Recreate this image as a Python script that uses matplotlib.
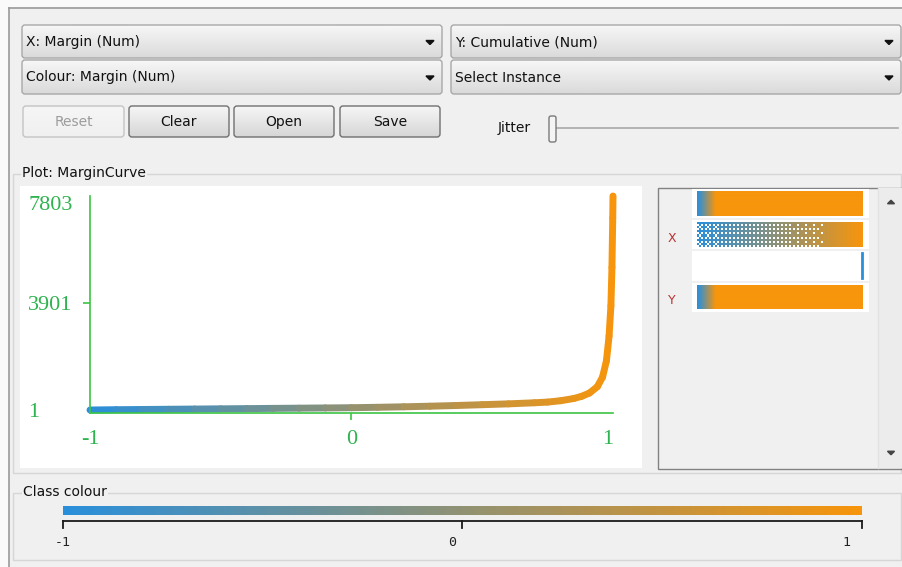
"""Weka visualize panel: margin curve (cumulative count vs margin)."""

import matplotlib
matplotlib.use("Agg")
import matplotlib.pyplot as plt
import numpy as np
from matplotlib.collections import LineCollection
from matplotlib.colors import LinearSegmentedColormap, Normalize
from matplotlib.patches import FancyBboxPatch, Polygon, Rectangle
from matplotlib import transforms

W, H = 903, 567

# --- data ---
margin = [-1.0, -0.9, -0.8, -0.7, -0.6, -0.5, -0.4, -0.3, -0.2, -0.1, 0.0,
          0.1, 0.2, 0.3, 0.4, 0.5, 0.6, 0.7, 0.75, 0.8, 0.85, 0.88, 0.91,
          0.94, 0.96, 0.975, 0.985, 0.992, 0.996, 0.999, 1.0]
cumulative = [1, 12, 20, 28, 36, 44, 52, 60, 68, 76, 85,
              100, 118, 140, 165, 195, 225, 265, 290, 340, 420, 500, 620,
              850, 1200, 1800, 2700, 3800, 5200, 7000, 7803]

x_ticks = [-1, 0, 1]
y_ticks = [1, 3901, 7803]
class_ticks = [-1, 0, 1]

# attribute strips in the legend panel: (bar position, margin colour)
strip_top_pos = [0.0, 0.02, 0.11, 1.0]
strip_top_margin = [-1.0, -0.7, 1.0, 1.0]
strip_x_pos = [0.0, 1.0]
strip_x_margin = [-1.0, 1.0]
strip_x_cover_pos = [0.0, 0.4, 0.75, 0.79, 1.0]
strip_x_cover = [0.68, 0.7, 0.8, 1.0, 1.0]
strip_y_pos = [0.0, 0.02, 0.11, 1.0]
strip_y_margin = [-1.0, -0.7, 1.0, 1.0]

BLUE = "#2a8fdb"
ORANGE = "#f7950c"
GREEN = "#3cc444"
GREEN_TXT = "#2fb34f"
BG = "#f0f0f0"
UI_FONT = "DejaVu Sans"

cmap = LinearSegmentedColormap.from_list("weka", [BLUE, ORANGE])
norm = Normalize(-1, 1)


def frac(x0, y0, x1, y1):
    return [x0 / W, 1 - y1 / H, (x1 - x0) / W, (y1 - y0) / H]


def grad_box(ax, x0, y0, x1, y1, top, bottom, edge, r=3):
    patch = FancyBboxPatch((x0, y0), x1 - x0, y1 - y0,
                           boxstyle=f"round,pad=0,rounding_size={r}",
                           facecolor="none", edgecolor=edge, lw=1, zorder=3)
    ax.add_patch(patch)
    c0 = np.array(matplotlib.colors.to_rgb(top))
    c1 = np.array(matplotlib.colors.to_rgb(bottom))
    t = np.linspace(0, 1, 32)[:, None, None]
    img = c0 * (1 - t) + c1 * t
    im = ax.imshow(img, extent=(x0, x1, y1, y0), aspect="auto", zorder=2,
                   interpolation="bilinear")
    im.set_clip_path(patch)


def arrow_down(ax, cx, cy, s=4, color="#111111"):
    ax.add_patch(Polygon([(cx - s, cy - s / 2), (cx + s, cy - s / 2), (cx, cy + s / 2)],
                         closed=True, color=color, zorder=4))


def arrow_up(ax, cx, cy, s=4, color="#444444"):
    ax.add_patch(Polygon([(cx - s, cy + s / 2), (cx + s, cy + s / 2), (cx, cy - s / 2)],
                         closed=True, color=color, zorder=4))


def strip_image(pos, marg, n=166):
    u = np.linspace(0, 1, n)
    m = np.interp(u, pos, marg)
    return cmap(norm(m))[None, :, :]


fig = plt.figure(figsize=(W / 100, H / 100), dpi=100)
fig.patch.set_facecolor(BG)

ui = fig.add_axes([0, 0, 1, 1])
ui.set_xlim(0, W)
ui.set_ylim(H, 0)
ui.set_autoscale_on(False)
ui.axis("off")

# outer frame
ui.add_patch(Rectangle((0, 0), W, 7, facecolor="#fafafa", edgecolor="none"))
ui.add_patch(Rectangle((0, 0), 9, H, facecolor="#fafafa", edgecolor="none"))
ui.plot([9.5, W], [7.5, 7.5], color="#9a9a9a", lw=1.2)
ui.plot([9.5, 9.5], [7.5, H], color="#9a9a9a", lw=1.2)

# combo boxes
combos = [(22, 25, 442, 58, "X: Margin (Num)"),
          (22, 60, 442, 94, "Colour: Margin (Num)"),
          (451, 25, 901, 58, "Y: Cumulative (Num)"),
          (451, 60, 901, 94, "Select Instance")]
for x0, y0, x1, y1, label in combos:
    grad_box(ui, x0, y0, x1, y1, "#f7f7f7", "#dadada", "#a8a8a8")
    ui.text(x0 + 4, (y0 + y1) / 2 + 0.5, label, fontsize=10, family=UI_FONT,
            va="center", ha="left", color="#111111", zorder=5)
    arrow_down(ui, x1 - 12, (y0 + y1) / 2 + 1)

# buttons
buttons = [(23, 106, 124, 137, "Reset", False),
           (129, 106, 229, 137, "Clear", True),
           (234, 106, 334, 137, "Open", True),
           (340, 106, 440, 137, "Save", True)]
for x0, y0, x1, y1, label, enabled in buttons:
    if enabled:
        grad_box(ui, x0, y0, x1, y1, "#f6f6f6", "#d6d6d6", "#707070")
        col = "#111111"
    else:
        grad_box(ui, x0, y0, x1, y1, "#f6f6f6", "#f0f0f0", "#c4c4c4")
        col = "#9c9c9c"
    ui.text((x0 + x1) / 2, (y0 + y1) / 2 + 0.5, label, fontsize=10,
            family=UI_FONT, ha="center", va="center", color=col, zorder=5)

# jitter slider
ui.text(498, 128, "Jitter", fontsize=10, family=UI_FONT, ha="left",
        va="center", color="#111111")
ui.plot([556, 898], [127.5, 127.5], color="#a9a9a9", lw=1.2, zorder=2)
ui.add_patch(FancyBboxPatch((549, 116), 7, 26,
                            boxstyle="round,pad=0,rounding_size=2",
                            facecolor="#f4f4f4", edgecolor="#7a7a7a", lw=1, zorder=3))

# titled borders
ui.add_patch(Rectangle((13.5, 173.5), 888, 299, facecolor="none",
                       edgecolor="#d6d6d6", lw=1))
ui.text(22, 173, "Plot: MarginCurve", fontsize=10, family=UI_FONT, ha="left",
        va="center", color="#111111",
        bbox=dict(facecolor=BG, edgecolor="none", pad=1))
ui.add_patch(Rectangle((13.5, 492.5), 888, 67, facecolor="none",
                       edgecolor="#d6d6d6", lw=1))
ui.text(23, 492, "Class colour", fontsize=10, family=UI_FONT, ha="left",
        va="center", color="#111111",
        bbox=dict(facecolor=BG, edgecolor="none", pad=1))

# white plot canvas
ui.add_patch(Rectangle((20, 186), 622, 282, facecolor="white", edgecolor="none"))

# legend (attribute) panel
ui.add_patch(Rectangle((658.5, 187.5), 244, 281, facecolor=BG,
                       edgecolor="#828282", lw=1))
ui.add_patch(Rectangle((878, 188), 24, 280, facecolor="#ececec", edgecolor="none"))
ui.plot([878, 878], [188, 468], color="#e2e2e2", lw=1)
arrow_up(ui, 891, 202, s=3.5)
arrow_down(ui, 891, 453, s=3.5, color="#444444")

rows = [(189, 218), (220, 249), (251, 281), (283, 312)]
for y0, y1 in rows:
    ui.add_patch(Rectangle((692, y0), 177, y1 - y0, facecolor="white",
                           edgecolor="none"))

bx0, bx1 = 697, 863
ui.imshow(strip_image(strip_top_pos, strip_top_margin),
          extent=(bx0, bx1, 216, 191), aspect="auto", zorder=3)
ui.imshow(strip_image(strip_y_pos, strip_y_margin),
          extent=(bx0, bx1, 309, 285), aspect="auto", zorder=3)

# X strip: margin values spread along the bar, sparse on the left
ncol, nrow = 83, 12
xs_img = strip_image(strip_x_pos, strip_x_margin, n=ncol).repeat(nrow, axis=0)
bayer = np.array([[0, 8, 2, 10], [12, 4, 14, 6], [3, 11, 1, 9], [15, 7, 13, 5]]) / 16
cover = np.interp(np.linspace(0, 1, ncol), strip_x_cover_pos, strip_x_cover)
thresh = np.tile(bayer, (nrow // 4 + 1, ncol // 4 + 1))[:nrow, :ncol]
xs_img[..., 3] = (thresh < cover[None, :]).astype(float)
ui.imshow(xs_img, extent=(bx0, bx1, 247, 222), aspect="auto", zorder=3,
          interpolation="nearest")

# third strip: a single value at the right end
ui.plot([862, 862], [253, 278], color=BLUE, lw=2, zorder=3)

ui.text(672, 239, "X", fontsize=9, family=UI_FONT, ha="center", va="center",
        color="#b83232")
ui.text(672, 301, "Y", fontsize=9, family=UI_FONT, ha="center", va="center",
        color="#b83232")

# --- the margin curve ---
ax = fig.add_axes(frac(90, 196, 613, 413))
ax.set_facecolor("none")
ax.set_xlim(-1, 1)
ax.set_ylim(-108, 7803)
for side in ("top", "right"):
    ax.spines[side].set_visible(False)
for side in ("left", "bottom"):
    ax.spines[side].set_color(GREEN)
    ax.spines[side].set_linewidth(1.2)

pts = np.column_stack([margin, cumulative])
segs = np.stack([pts[:-1], pts[1:]], axis=1)
lc = LineCollection(segs, cmap=cmap, norm=norm, linewidths=5,
                    capstyle="round", joinstyle="round", clip_on=False)
lc.set_array((np.array(margin[:-1]) + np.array(margin[1:])) / 2)
ax.add_collection(lc)

ax.set_xticks(x_ticks)
ax.set_xticklabels([str(t) for t in x_ticks])
ax.tick_params(axis="x", colors=GREEN, length=5, width=1.2, pad=7,
               labelcolor=GREEN_TXT, labelsize=16)
for lab in ax.get_xticklabels():
    lab.set_family("Liberation Serif")
xt = ax.xaxis.get_major_ticks()
xt[0].tick1line.set_visible(False)
xt[-1].tick1line.set_visible(False)
xt[-1].label1.set_horizontalalignment("right")

ax.set_yticks(y_ticks)
ax.set_yticklabels([str(t) for t in y_ticks])
ax.tick_params(axis="y", colors=GREEN, length=5, width=1.2, pad=39.5,
               labelcolor=GREEN_TXT, labelsize=16)
for lab in ax.get_yticklabels():
    lab.set_family("Liberation Serif")
    lab.set_horizontalalignment("left")
yt = ax.yaxis.get_major_ticks()
yt[0].tick1line.set_visible(False)
yt[-1].tick1line.set_visible(False)
yt[-1].label1.set_verticalalignment("top")

# --- class colour bar ---
cax = fig.add_axes(frac(63, 506, 862, 528))
cax.set_xlim(-1, 1)
cax.set_ylim(0, 22)
cax.axis("off")
grad = np.linspace(class_ticks[0], class_ticks[-1], 400)[None, :]
cax.imshow(grad, cmap=cmap, norm=norm, extent=(-1, 1, 13, 22), aspect="auto")
cax.plot([class_ticks[0], class_ticks[-1]], [7, 7], color="#1a1a1a", lw=1.3,
         clip_on=False)
label_shift = [0, -10, -16]
for t, dx in zip(class_ticks, label_shift):
    cax.plot([t, t], [7, 0], color="#1a1a1a", lw=1.3, clip_on=False)
    off = transforms.ScaledTranslation(dx / 100, 0, fig.dpi_scale_trans)
    cax.text(t, -14, str(t), transform=cax.transData + off, ha="center",
             va="center", fontsize=9.5, family="DejaVu Sans Mono",
             color="#222222")

fig.savefig("out.png", dpi=100, facecolor=BG)
